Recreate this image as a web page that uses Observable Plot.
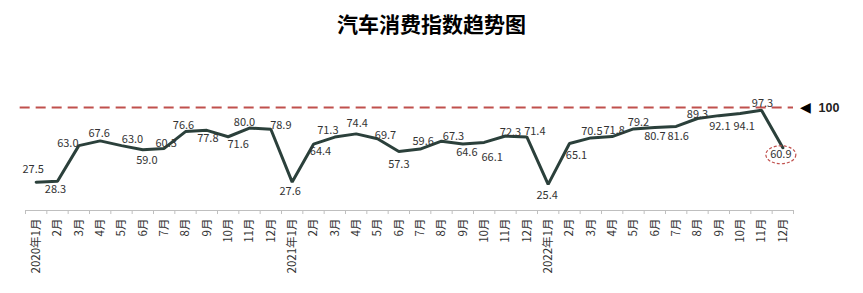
<!DOCTYPE html>
<html>
<head>
<meta charset="utf-8">
<script src="https://cdn.jsdelivr.net/npm/d3@7"></script>
<script src="https://cdn.jsdelivr.net/npm/@observablehq/plot@0.6"></script>
<style>
  body { margin: 0; background: #fff; font-family: "Noto Sans CJK SC", "Noto Sans", sans-serif; }
  #title { height: 45px; line-height: 46px; text-align: center; font-size: 21px; font-weight: bold; color: #000; }
  svg { overflow: visible; }
</style>
</head>
<body>
<div id="title">汽车消费指数趋势图</div>
<div id="chart"></div>
<script>
// ---- data ----
const monthLabels = [
  "2020年1月","2月","3月","4月","5月","6月","7月","8月","9月","10月","11月","12月",
  "2021年1月","2月","3月","4月","5月","6月","7月","8月","9月","10月","11月","12月",
  "2022年1月","2月","3月","4月","5月","6月","7月","8月","9月","10月","11月","12月"
];
const values2020 = [27.5, 28.3, 63.0, 67.6, 63.0, 59.0, 60.3, 76.6, 77.8, 71.6, 80.0, 78.9];
const values2021 = [27.6, 64.4, 71.3, 74.4, 69.7, 57.3, 59.6, 67.3, 64.6, 66.1, 72.3, 71.4];
const values2022 = [25.4, 65.1, 70.5, 71.8, 79.2, 80.7, 81.6, 89.3, 92.1, 94.1, 97.3, 60.9];
const benchmark = 100;
const highlightIndex = 35;

// ---- label placement (layout, px offsets) ----
const labelDx = [-3,-2,-11,-1,11,4,2,-2,1,10,-5,10, -2,7,-7,1,8,0,3,12,4,8,5,8, -1,7,1,2,5,0,2,0,1,4,1,-2];
const labelDy = [-13,8,-2,-7,-6,11,-5,-6,8,8,-6,-4, 9,7,-7,-10,-3,13,-8,-5,9,15,-4,-5, 11,12,-6,-6,-6,9,10,-4,11,13,-7,7];

const values = [...values2020, ...values2021, ...values2022];
const data = values.map((v, i) => ({i, v, label: monthLabels[i], dx: labelDx[i], dy: labelDy[i]}));
const boundaries = d3.range(monthLabels.length + 1).map(k => k - 0.5);

const lineColor = "#2b403b";
const red = "#c0504d";
const font = "Noto Sans CJK SC";

// custom ellipse symbol
const K = 0.5523;
const ellipse = {
  draw(ctx) {
    const rx = 15, ry = 9;
    ctx.moveTo(rx, 0);
    ctx.bezierCurveTo(rx, K * ry, K * rx, ry, 0, ry);
    ctx.bezierCurveTo(-K * rx, ry, -rx, K * ry, -rx, 0);
    ctx.bezierCurveTo(-rx, -K * ry, -K * rx, -ry, 0, -ry);
    ctx.bezierCurveTo(K * rx, -ry, rx, -K * ry, rx, 0);
    ctx.closePath();
  }
};

const marks = [
  // benchmark dashed line
  Plot.ruleY([benchmark], {x1: -0.75, x2: monthLabels.length - 0.5, stroke: red, strokeWidth: 2, strokeDasharray: "10,6"}),
  Plot.text([benchmark], {x: monthLabels.length - 0.5, y: d => d, text: ["◀"], dx: 12, fontSize: 14, fill: "#000", fontFamily: "DejaVu Sans"}),
  Plot.text([benchmark], {x: monthLabels.length - 0.5, y: d => d, text: d => String(d), dx: 25, textAnchor: "start", fontSize: 12.5, fontWeight: "bold", fill: "#222", fontFamily: "Liberation Sans"}),
  // x axis baseline + ticks
  Plot.ruleY([0], {x1: -0.5, x2: monthLabels.length - 0.5, stroke: "#bfbfbf", strokeWidth: 1}),
  Plot.ruleX(boundaries, {x: d => d, y1: 0, y2: -3.9, stroke: "#bfbfbf", strokeWidth: 1}),
  Plot.text(data, {x: "i", y: 0, text: "label", rotate: -90, textAnchor: "end", dy: 8, fontSize: 11.5, fill: "#333", fontFamily: font}),
  // main line
  Plot.line(data, {x: "i", y: "v", stroke: lineColor, strokeWidth: 3, strokeLinejoin: "miter"}),
  // highlight ellipse
  Plot.dot([data[highlightIndex]], {x: "i", y: "v", dx: -2, dy: 7, symbol: ellipse, r: 5, fill: "none", stroke: red, strokeWidth: 1.2, strokeDasharray: "3,2"}),
  // value labels
  ...data.map(d => Plot.text([d], {x: "i", y: "v", text: e => e.v.toFixed(1), dx: d.dx, dy: d.dy, fontSize: 11, fill: "#333", fontFamily: font}))
];

const chart = Plot.plot({
  width: 863,
  height: 248,
  marginTop: 62,
  marginBottom: 83,
  marginLeft: 25,
  marginRight: 70,
  x: {type: "linear", domain: [-0.5, monthLabels.length - 0.5], axis: null},
  y: {type: "linear", domain: [0, 100], axis: null},
  style: {background: "#fff", overflow: "visible"},
  marks
});
document.getElementById("chart").appendChild(chart);
</script>
</body>
</html>
